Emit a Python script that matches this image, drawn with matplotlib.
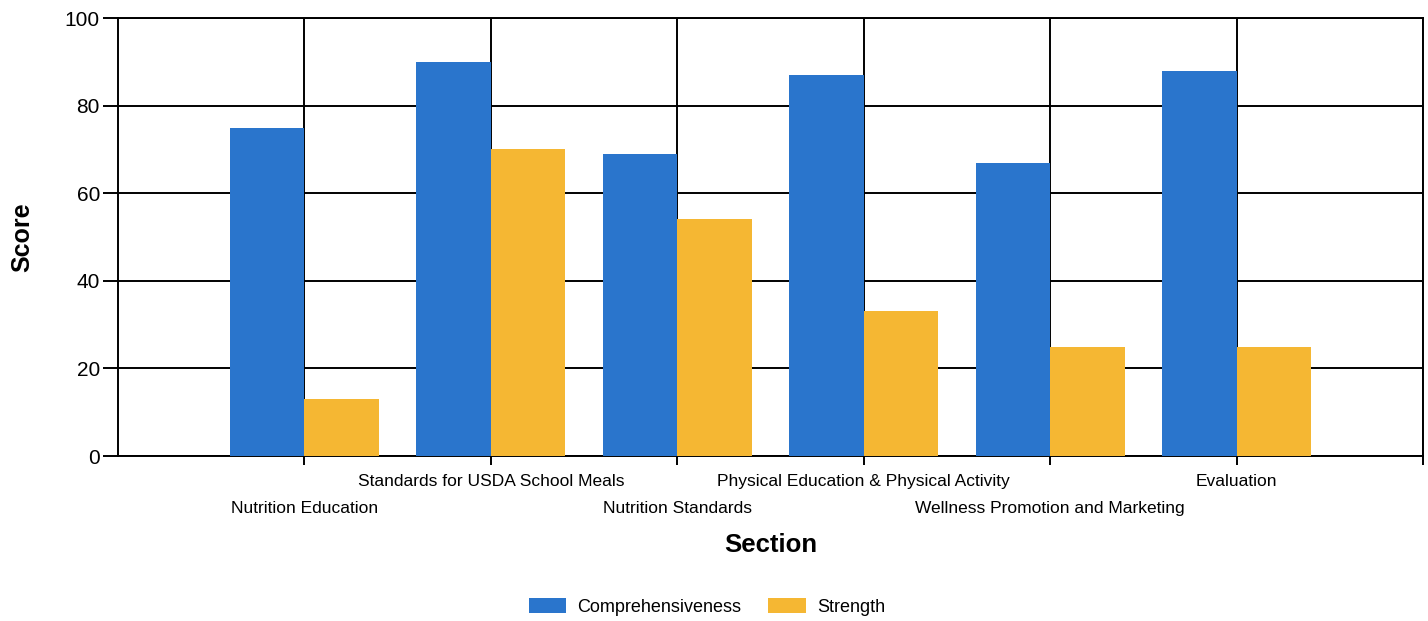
import numpy as np
import matplotlib
matplotlib.use("Agg")
import matplotlib.pyplot as plt

sections = ["Nutrition Education", "Standards for USDA School Meals", "Nutrition Standards",
            "Physical Education & Physical Activity", "Wellness Promotion and Marketing", "Evaluation"]
comprehensiveness = [75, 90, 69, 87, 67, 88]
strength = [13, 70, 54, 33, 25, 25]

blue = "#2a75cc"
orange = "#f5b733"

plt.rcParams["font.family"] = ["Liberation Sans", "DejaVu Sans"]

fig = plt.figure(figsize=(14.28, 6.21), dpi=100)
ax = fig.add_axes([0.0826, 0.2657, 0.9140, 0.7053])

x = np.arange(1, len(sections) + 1)
w = 0.4
ax.bar(x - w / 2, comprehensiveness, w, color=blue, label="Comprehensiveness", zorder=3)
ax.bar(x + w / 2, strength, w, color=orange, label="Strength", zorder=3)

ax.set_xlim(0, 7)
ax.set_ylim(0, 100)
ax.set_yticks([0, 20, 40, 60, 80, 100])
ax.set_xticks(list(x) + [7])
ax.set_xticklabels(sections + [""])
ax.grid(True, color="black", linewidth=1.4, zorder=1)

for s in ax.spines.values():
    s.set_color("black")
    s.set_linewidth(1.4)

ax.tick_params(axis="y", labelsize=15, length=11, width=1.4, pad=2)
ax.tick_params(axis="x", labelsize=12.5, length=6.5, width=1.4)
# staggered category labels, like the original
for i, t in enumerate(ax.xaxis.get_major_ticks()):
    t.set_pad(6.5 if i % 2 == 1 else 26)

ax.set_ylabel("Score", fontsize=18, fontweight="bold", labelpad=22)
ax.set_xlabel("Section", fontsize=18.5, fontweight="bold", labelpad=12)

fig.legend(loc="center", bbox_to_anchor=(0.495, 0.023), ncol=2, frameon=False,
           fontsize=13, handlelength=2.1, handleheight=0.9, handletextpad=0.6,
           columnspacing=1.5)

fig.savefig("out.png", dpi=100)
